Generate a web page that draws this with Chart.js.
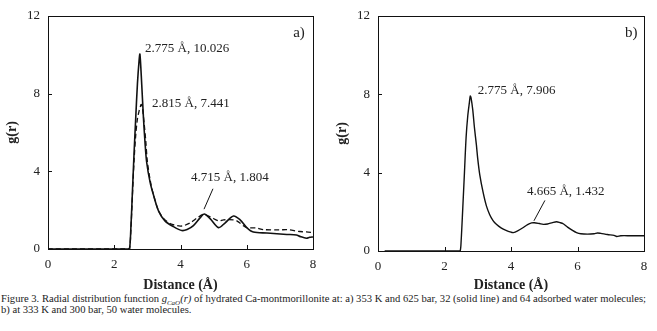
<!DOCTYPE html>
<html lang="en">
<head>
<meta charset="UTF-8">
<title>Radial distribution function</title>
<style>
    body {
        margin: 0;
        background: #fff;
        width: 657px;
        height: 331px;
        position: relative;
        overflow: hidden;
        font-family: 'Liberation Serif', 'Times New Roman', serif;
    }
    .panel {
        position: absolute;
        top: 0;
        height: 292px;
    }
    #panelA { left: 0; width: 330px; }
    #panelB { left: 330px; width: 327px; }
    .caption {
        position: absolute;
        left: 1px;
        top: 293px;
        font-size: 10.6px;
        line-height: 11px;
        color: #222;
        white-space: nowrap;
    }
    .caption sub { font-size: 7px; line-height: 0; }
</style>
</head>
<body>
<div class="panel" id="panelA"><canvas id="chartA"></canvas></div>
<div class="panel" id="panelB"><canvas id="chartB"></canvas></div>
<div class="caption">
    Figure 3. Radial distribution function <i>g<sub>CaO</sub>(r)</i> of hydrated Ca-montmorillonite at: a) 353 K and 625 bar, 32 (solid line) and 64 adsorbed water molecules;<br>
    b) at 333 K and 300 bar, 50 water molecules.
</div>

<script src="https://cdn.jsdelivr.net/npm/chart.js"></script>
<script>
// panel a) 32 water molecules (solid line)
const rA32 = [0, 2.40, 2.46, 2.50, 2.55, 2.60, 2.65, 2.70, 2.75, 2.775, 2.83, 2.88, 2.93, 2.98, 3.08, 3.18, 3.34, 3.53, 3.79, 4.04, 4.20, 4.39, 4.59, 4.715, 4.90, 5.15, 5.35, 5.60, 5.80, 6.00, 6.20, 6.61, 7.21, 7.50, 7.60, 7.80, 7.90, 8.00];
const gA32 = [0, 0, 0, 1.0, 3.0, 5.0, 6.8, 8.5, 9.7, 10.026, 8.45, 6.8, 5.45, 4.45, 3.45, 2.8, 1.95, 1.45, 1.15, 0.95, 1.0, 1.2, 1.6, 1.804, 1.55, 1.1, 1.35, 1.7, 1.5, 1.1, 0.87, 0.82, 0.75, 0.72, 0.65, 0.55, 0.6, 0.62];
// panel a) 64 water molecules (dashed line)
const rA64 = [0, 2.40, 2.46, 2.50, 2.55, 2.60, 2.65, 2.70, 2.75, 2.80, 2.815, 2.85, 2.90, 2.95, 3.00, 3.10, 3.20, 3.34, 3.50, 3.70, 3.90, 4.00, 4.10, 4.30, 4.50, 4.70, 4.90, 5.15, 5.30, 5.60, 5.70, 5.90, 6.00, 6.30, 6.50, 7.00, 7.20, 7.60, 7.80, 8.00];
const gA64 = [0, 0, 0, 0.9, 2.8, 4.6, 5.9, 6.7, 7.1, 7.4, 7.441, 7.25, 6.5, 5.6, 4.5, 3.4, 2.7, 1.95, 1.55, 1.3, 1.2, 1.18, 1.2, 1.35, 1.6, 1.78, 1.65, 1.45, 1.5, 1.5, 1.45, 1.2, 1.1, 1.08, 1.0, 0.98, 1.0, 0.9, 0.88, 0.85];
// panel b) 50 water molecules
const rB = [0.2, 2.40, 2.47, 2.50, 2.55, 2.60, 2.65, 2.70, 2.75, 2.775, 2.80, 2.85, 2.90, 2.96, 3.00, 3.06, 3.16, 3.26, 3.36, 3.46, 3.56, 3.70, 3.85, 4.00, 4.07, 4.20, 4.37, 4.50, 4.62, 4.70, 4.85, 4.97, 5.10, 5.25, 5.37, 5.47, 5.57, 5.70, 5.85, 5.97, 6.10, 6.30, 6.50, 6.60, 6.70, 6.90, 7.10, 7.18, 7.30, 7.60, 8.00];
const gB = [0, 0, 0, 0.5, 2.2, 4.0, 5.8, 6.9, 7.6, 7.906, 7.8, 7.2, 6.3, 5.4, 4.7, 3.9, 3.0, 2.3, 1.85, 1.55, 1.36, 1.18, 1.05, 0.96, 0.94, 1.03, 1.2, 1.35, 1.432, 1.44, 1.4, 1.36, 1.38, 1.45, 1.49, 1.45, 1.39, 1.22, 1.05, 0.94, 0.88, 0.86, 0.88, 0.92, 0.9, 0.84, 0.8, 0.74, 0.78, 0.78, 0.78];

const xTicks = [0, 2, 4, 6, 8];
const yTicks = [0, 4, 8, 12];

const toPoints = (xs, ys) => xs.map((x, i) => ({x: x, y: ys[i]}));

// box border, inward tick marks, peak labels and leader lines
const framePlugin = {
    id: 'frame',
    afterDraw(chart, args, opts) {
        const ctx = chart.ctx;
        const a = chart.chartArea;
        const xs = chart.scales.x, ys = chart.scales.y;
        ctx.save();
        ctx.strokeStyle = '#111';
        ctx.lineWidth = 1;
        ctx.strokeRect(Math.round(a.left) + 0.5, Math.round(a.top) + 0.5, Math.round(a.right - a.left), Math.round(a.bottom - a.top));
        ctx.beginPath();
        xTicks.forEach(v => {
            const px = Math.round(xs.getPixelForValue(v)) + 0.5;
            ctx.moveTo(px, a.bottom);
            ctx.lineTo(px, a.bottom - 4);
        });
        yTicks.forEach(v => {
            const py = Math.round(ys.getPixelForValue(v)) + 0.5;
            ctx.moveTo(a.left, py);
            ctx.lineTo(a.left + 4, py);
        });
        ctx.stroke();

        ctx.fillStyle = '#222';
        ctx.font = '13px "Liberation Serif", serif';
        ctx.textBaseline = 'middle';
        ctx.textAlign = 'left';
        (opts.labels || []).forEach(l => {
            ctx.fillText(l.text, xs.getPixelForValue(l.x), ys.getPixelForValue(l.y));
        });
        ctx.font = '15px "Liberation Serif", serif';
        if (opts.tag) {
            ctx.fillText(opts.tag.text, xs.getPixelForValue(opts.tag.x), ys.getPixelForValue(opts.tag.y));
        }
        ctx.beginPath();
        (opts.leaders || []).forEach(l => {
            ctx.moveTo(xs.getPixelForValue(l[0]), ys.getPixelForValue(l[1]));
            ctx.lineTo(xs.getPixelForValue(l[2]), ys.getPixelForValue(l[3]));
        });
        ctx.stroke();
        ctx.restore();
    }
};

function makeOptions(rightPad, xHeight, extra) {
    return {
        responsive: true,
        maintainAspectRatio: false,
        animation: false,
        layout: { padding: { top: 9, right: rightPad, left: 0, bottom: 0 } },
        plugins: {
            legend: { display: false },
            tooltip: { enabled: false },
            frame: extra
        },
        scales: {
            x: {
                type: 'linear',
                min: 0,
                max: 8,
                afterFit(scale) { scale.height = xHeight; },
                afterBuildTicks(scale) { scale.ticks = xTicks.map(v => ({value: v})); },
                grid: { display: false, drawTicks: false },
                border: { display: false },
                ticks: {
                    padding: 8,
                    color: '#222',
                    font: { family: 'Liberation Serif', size: 13 }
                },
                title: {
                    display: true,
                    text: 'Distance (Å)',
                    color: '#222',
                    padding: 0,
                    font: { family: 'Liberation Serif', size: 14, weight: 'bold', lineHeight: 1 }
                }
            },
            y: {
                min: 0,
                max: 12,
                afterFit(scale) { scale.width = 48; },
                afterBuildTicks(scale) { scale.ticks = yTicks.map(v => ({value: v})); },
                grid: { display: false, drawTicks: false },
                border: { display: false },
                ticks: {
                    padding: 8,
                    color: '#222',
                    font: { family: 'Liberation Serif', size: 13 }
                },
                title: {
                    display: true,
                    text: 'g(r)',
                    color: '#222',
                    padding: { top: 5, bottom: 0 },
                    font: { family: 'Liberation Serif', size: 14, weight: 'bold', lineHeight: 1 }
                }
            }
        }
    };
}

new Chart(document.getElementById('chartA'), {
    type: 'line',
    data: {
        datasets: [{
            label: '32 water molecules',
            data: toPoints(rA32, gA32),
            borderColor: '#111',
            borderWidth: 1.6,
            pointRadius: 0,
            tension: 0.3
        }, {
            label: '64 water molecules',
            data: toPoints(rA64, gA64),
            borderColor: '#111',
            borderWidth: 1.3,
            borderDash: [5, 3],
            pointRadius: 0,
            tension: 0.3
        }]
    },
    options: makeOptions(17, 43, {
        labels: [
            {text: '2.775 Å, 10.026', x: 2.93, y: 10.3},
            {text: '2.815 Å, 7.441', x: 3.14, y: 7.5},
            {text: '4.715 Å, 1.804', x: 4.32, y: 3.65}
        ],
        leaders: [[4.98, 3.1, 4.71, 2.05]],
        tag: {text: 'a)', x: 7.4, y: 11.1}
    }),
    plugins: [framePlugin]
});

new Chart(document.getElementById('chartB'), {
    type: 'line',
    data: {
        datasets: [{
            label: '50 water molecules',
            data: toPoints(rB, gB),
            borderColor: '#111',
            borderWidth: 1.4,
            pointRadius: 0,
            tension: 0.3
        }]
    },
    options: makeOptions(13, 41, {
        labels: [
            {text: '2.775 Å, 7.906', x: 3.0, y: 8.18},
            {text: '4.665 Å, 1.432', x: 4.48, y: 3.02}
        ],
        leaders: [[5.02, 2.58, 4.69, 1.54]],
        tag: {text: 'b)', x: 7.43, y: 11.1}
    }),
    plugins: [framePlugin]
});
</script>
</body>
</html>
